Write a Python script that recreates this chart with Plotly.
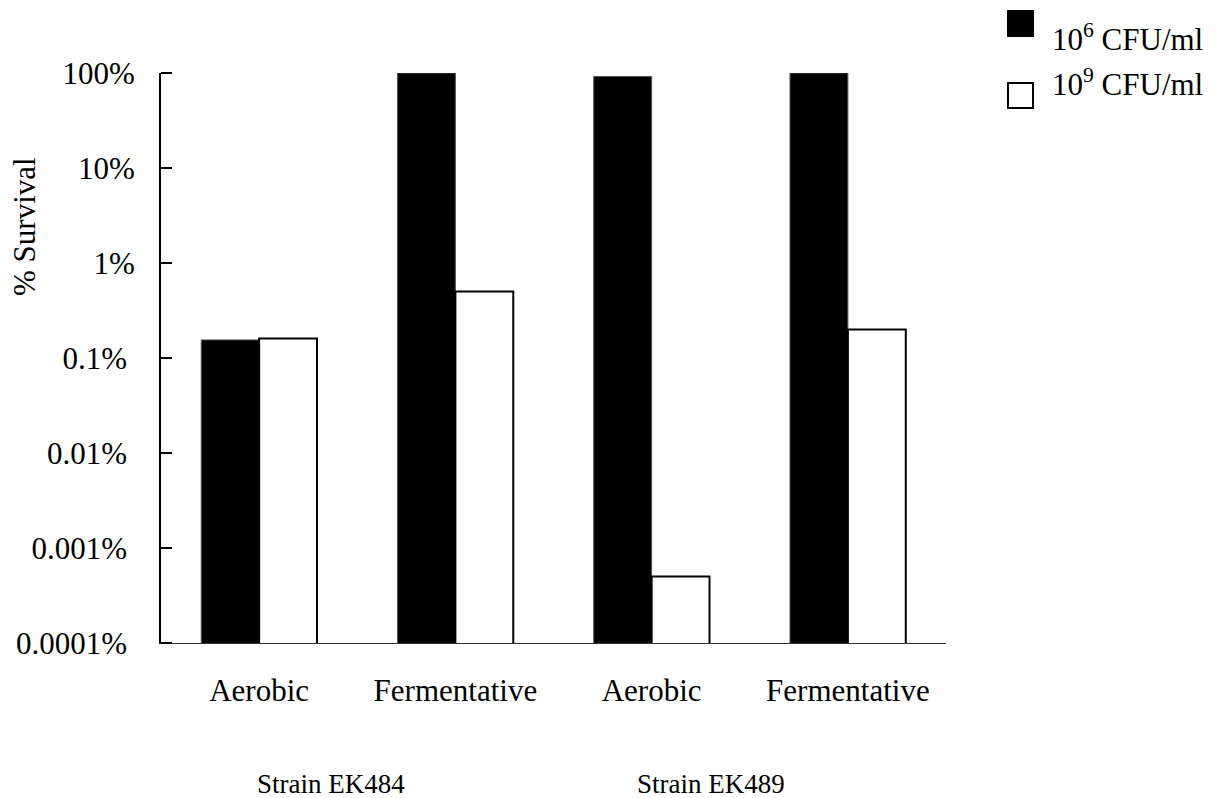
import math
import plotly.graph_objects as go

# ---- data ----
categories = ["Aerobic", "Fermentative", "Aerobic ", "Fermentative "]
cat_labels = ["Aerobic", "Fermentative", "Aerobic", "Fermentative"]
series_names = ["10<sup>6</sup> CFU/ml", "10<sup>9</sup> CFU/ml"]
survival_1e6 = [0.155, 100, 92, 100]        # % survival, 10^6 CFU/ml
survival_1e9 = [0.16, 0.5, 0.0005, 0.2]     # % survival, 10^9 CFU/ml
tick_vals = [0.0001, 0.001, 0.01, 0.1, 1, 10, 100]
tick_text = ["0.0001%\u00a0", "0.001%\u00a0", "0.01%\u00a0", "0.1%\u00a0", "1%", "10%", "100%"]
strain_labels = ["Strain EK484", "Strain EK489"]

FONT = "Liberation Serif, Times New Roman, serif"
W, H = 1225, 798
L, R, T, B = 161, 946, 73, 643  # plot area in pixels
Y_RANGE = [-4, 2]


def px_x(p):
    return (p - L) / (R - L)


def px_y(p):
    return (B - p) / (B - T)


fig = go.Figure()
fig.add_trace(go.Bar(
    x=categories, y=survival_1e6, name=series_names[0],
    marker=dict(color="black", line=dict(color="#555555", width=1)),
    showlegend=False,
))
fig.add_trace(go.Bar(
    x=categories, y=survival_1e9, name=series_names[1],
    marker=dict(color="white", line=dict(color="black", width=2)),
    showlegend=False,
))

fig.update_layout(
    width=W, height=H,
    margin=dict(l=L, r=W - R, t=T, b=H - B, autoexpand=False),
    plot_bgcolor="white", paper_bgcolor="white",
    barmode="group", bargap=0.41, bargroupgap=0,
    font=dict(family=FONT, size=31, color="black"),
)
fig.update_xaxes(
    type="category", range=[-0.5, 3.5],
    tickvals=categories, ticktext=cat_labels,
    showline=True, linecolor="#333333", linewidth=1,
    ticks="", showgrid=False, zeroline=False, automargin=False,
    ticklabelstandoff=20,
    tickfont=dict(family=FONT, size=31, color="black"),
)
fig.update_yaxes(
    type="log", range=Y_RANGE,
    tickvals=tick_vals, ticktext=tick_text,
    showline=True, linecolor="black", linewidth=2,
    ticks="inside", ticklen=11, tickwidth=2, tickcolor="black",
    showgrid=False, zeroline=False, automargin=False,
    ticklabelstandoff=18,
    tickfont=dict(family=FONT, size=31, color="black"),
)

# explicit inside tick marks on the y axis (positions derived from axis range)
for v in tick_vals:
    frac = (math.log10(v) - Y_RANGE[0]) / (Y_RANGE[1] - Y_RANGE[0])
    fig.add_shape(
        type="line", xref="paper", yref="paper",
        x0=0, x1=px_x(172), y0=frac, y1=frac,
        line=dict(color="black", width=2), layer="above",
    )

# y-axis title
fig.add_annotation(
    text="% Survival", xref="paper", yref="paper",
    x=px_x(25), y=px_y(227), textangle=-90, showarrow=False,
    xanchor="center", yanchor="middle",
    font=dict(family=FONT, size=31, color="black"),
)

# strain labels
for xpos, lab in zip([331, 711], strain_labels):
    fig.add_annotation(
        text=lab, xref="paper", yref="paper",
        x=px_x(xpos), y=px_y(784), showarrow=False,
        xanchor="center", yanchor="middle",
        font=dict(family=FONT, size=27, color="black"),
    )

# legend (drawn manually to match large swatches)
legend_rows = [
    dict(fill="black", line="black", top=11, text_y=37),
    dict(fill="white", line="black", top=83, text_y=82),
]
for row, name in zip(legend_rows, series_names):
    fig.add_shape(
        type="rect", xref="paper", yref="paper",
        x0=px_x(1008), x1=px_x(1033),
        y0=px_y(row["top"] + 25), y1=px_y(row["top"]),
        fillcolor=row["fill"], line=dict(color=row["line"], width=2),
    )
    fig.add_annotation(
        text=name, xref="paper", yref="paper",
        x=px_x(1050), y=px_y(row["text_y"]), showarrow=False,
        xanchor="left", yanchor="middle",
        font=dict(family=FONT, size=31, color="black"),
    )

fig.write_html(
    "out.html",
    config={"displayModeBar": False},
    post_script="document.body.style.margin='0';document.body.style.overflow='hidden';",
)
